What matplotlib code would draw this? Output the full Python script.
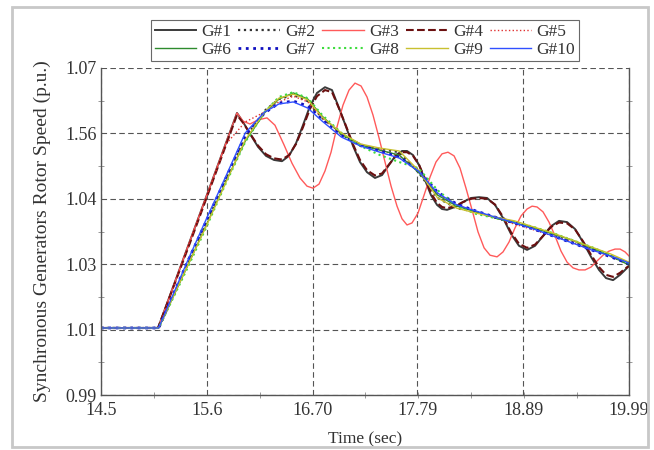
import numpy as np
import matplotlib
matplotlib.use("Agg")
import matplotlib.pyplot as plt
from matplotlib.ticker import AutoMinorLocator
from matplotlib.patches import Rectangle

# time bases (sec)
t_blk = [14.500, 15.093, 15.425, 15.685, 15.914, 15.977, 16.049, 16.133, 16.216, 16.299,
         16.382, 16.455, 16.528, 16.600, 16.673, 16.746, 16.829, 16.902, 16.975, 17.048,
         17.121, 17.193, 17.266, 17.349, 17.422, 17.495, 17.567, 17.630, 17.682, 17.744,
         17.807, 17.869, 17.931, 17.994, 18.046, 18.098, 18.181, 18.264, 18.347, 18.431,
         18.514, 18.597, 18.680, 18.763, 18.846, 18.930, 19.013, 19.096, 19.179, 19.262,
         19.346, 19.429, 19.512, 19.595, 19.678, 19.751, 19.824, 19.897, 19.949, 19.990]
t_red = [14.500, 15.093, 15.425, 15.685, 15.914, 15.977, 16.049, 16.133, 16.226, 16.309,
         16.403, 16.486, 16.569, 16.642, 16.704, 16.767, 16.829, 16.892, 16.954, 17.016,
         17.079, 17.141, 17.204, 17.266, 17.328, 17.391, 17.453, 17.516, 17.578, 17.630,
         17.682, 17.734, 17.796, 17.859, 17.921, 17.983, 18.046, 18.108, 18.171, 18.233,
         18.295, 18.358, 18.420, 18.483, 18.545, 18.618, 18.680, 18.742, 18.805, 18.867,
         18.930, 18.982, 19.034, 19.096, 19.158, 19.221, 19.283, 19.346, 19.408, 19.470,
         19.533, 19.595, 19.658, 19.720, 19.782, 19.845, 19.897, 19.949, 19.990]
t_smooth = [14.5, 15.1, 15.4, 15.6, 15.8, 16.0, 16.2, 16.35, 16.5, 16.65, 16.8,
            17.0, 17.2, 17.4, 17.6, 17.8, 18.0, 18.2, 18.4, 18.6, 18.8, 19.0,
            19.2, 19.4, 19.6, 19.8, 19.99]

# rotor speeds (axis units)
g1 = [1.0064, 1.0064, 1.0277, 1.0443, 1.0590, 1.0568, 1.0539, 1.0507, 1.0485, 1.0475,
      1.0472, 1.0485, 1.0516, 1.0560, 1.0607, 1.0639, 1.0653, 1.0646, 1.0602, 1.0556,
      1.0509, 1.0470, 1.0445, 1.0431, 1.0438, 1.0463, 1.0487, 1.0497, 1.0497, 1.0487,
      1.0463, 1.0426, 1.0389, 1.0365, 1.0355, 1.0353, 1.0360, 1.0372, 1.0382, 1.0384,
      1.0382, 1.0365, 1.0333, 1.0294, 1.0265, 1.0255, 1.0265, 1.0289, 1.0313, 1.0326,
      1.0323, 1.0306, 1.0274, 1.0238, 1.0206, 1.0186, 1.0181, 1.0194, 1.0206, 1.0216]
g4 = [1.0064, 1.0064, 1.0272, 1.0438, 1.0585, 1.0566, 1.0540, 1.0510, 1.0489, 1.0479,
      1.0476, 1.0487, 1.0514, 1.0555, 1.0600, 1.0631, 1.0646, 1.0641, 1.0601, 1.0558,
      1.0513, 1.0475, 1.0450, 1.0437, 1.0442, 1.0464, 1.0485, 1.0494, 1.0494, 1.0485,
      1.0463, 1.0429, 1.0394, 1.0370, 1.0360, 1.0357, 1.0362, 1.0372, 1.0380, 1.0382,
      1.0380, 1.0366, 1.0336, 1.0298, 1.0270, 1.0260, 1.0268, 1.0289, 1.0311, 1.0322,
      1.0320, 1.0305, 1.0276, 1.0243, 1.0213, 1.0194, 1.0189, 1.0199, 1.0209, 1.0216]
g3 = [1.0064, 1.0064, 1.0277, 1.0443, 1.0590, 1.0570, 1.0563, 1.0573, 1.0578, 1.0560,
      1.0512, 1.0467, 1.0431, 1.0411, 1.0406, 1.0416, 1.0448, 1.0494, 1.0556, 1.0609,
      1.0646, 1.0663, 1.0656, 1.0629, 1.0585, 1.0529, 1.0470, 1.0411, 1.0362, 1.0331,
      1.0316, 1.0321, 1.0345, 1.0389, 1.0433, 1.0470, 1.0490, 1.0494, 1.0485, 1.0455,
      1.0406, 1.0353, 1.0299, 1.0260, 1.0242, 1.0238, 1.0250, 1.0274, 1.0309, 1.0338,
      1.0355, 1.0362, 1.0360, 1.0348, 1.0323, 1.0289, 1.0252, 1.0225, 1.0211, 1.0206,
      1.0206, 1.0213, 1.0228, 1.0242, 1.0252, 1.0257, 1.0257, 1.0250, 1.0240]
g2 = [1.0064, 1.0064, 1.0220, 1.0323, 1.0428, 1.0529, 1.0595, 1.0624, 1.0634, 1.0619,
      1.0578, 1.0538, 1.0509, 1.0502, 1.0494, 1.0445, 1.0382, 1.0357, 1.0348, 1.0335,
      1.0323, 1.0309, 1.0291, 1.0274, 1.0257, 1.0240, 1.0220]
g5 = [1.0064, 1.0064, 1.0260, 1.0387, 1.0514, 1.0568, 1.0592, 1.0617, 1.0631, 1.0617,
      1.0578, 1.0538, 1.0514, 1.0499, 1.0485, 1.0450, 1.0392, 1.0365, 1.0348, 1.0333,
      1.0318, 1.0304, 1.0289, 1.0274, 1.0257, 1.0240, 1.0220]
g6 = [1.0064, 1.0064, 1.0216, 1.0318, 1.0423, 1.0521, 1.0590, 1.0624, 1.0639, 1.0624,
      1.0582, 1.0538, 1.0512, 1.0499, 1.0487, 1.0445, 1.0389, 1.0362, 1.0348, 1.0333,
      1.0321, 1.0309, 1.0294, 1.0279, 1.0260, 1.0240, 1.0218]
g7 = [1.0064, 1.0064, 1.0226, 1.0328, 1.0431, 1.0534, 1.0590, 1.0614, 1.0619, 1.0607,
      1.0575, 1.0536, 1.0512, 1.0497, 1.0482, 1.0450, 1.0396, 1.0367, 1.0350, 1.0335,
      1.0321, 1.0306, 1.0289, 1.0272, 1.0255, 1.0238, 1.0221]
g8 = [1.0064, 1.0064, 1.0211, 1.0313, 1.0419, 1.0519, 1.0592, 1.0629, 1.0641, 1.0626,
      1.0585, 1.0541, 1.0509, 1.0487, 1.0470, 1.0455, 1.0401, 1.0362, 1.0343, 1.0333,
      1.0323, 1.0311, 1.0296, 1.0279, 1.0262, 1.0242, 1.0223]
g9 = [1.0064, 1.0064, 1.0216, 1.0316, 1.0421, 1.0524, 1.0592, 1.0626, 1.0636, 1.0622,
      1.0580, 1.0541, 1.0514, 1.0504, 1.0497, 1.0450, 1.0382, 1.0357, 1.0345, 1.0335,
      1.0326, 1.0311, 1.0296, 1.0279, 1.0262, 1.0245, 1.0225]
g10 = [1.0064, 1.0064, 1.0228, 1.0333, 1.0436, 1.0541, 1.0592, 1.0612, 1.0617, 1.0602,
       1.0570, 1.0531, 1.0509, 1.0494, 1.0480, 1.0448, 1.0394, 1.0365, 1.0350, 1.0335,
       1.0321, 1.0306, 1.0289, 1.0272, 1.0255, 1.0240, 1.0223]

x_tick_vals = [14.5, 15.6, 16.70, 17.79, 18.89, 19.99]
x_tick_labels = ["14.5", "15.6", "16.70", "17.79", "18.89", "19.99"]
y_tick_labels = ["0.99", "1.01", "1.03", "1.04", "1.56", "1.07"]

plt.rcParams["font.family"] = ["Liberation Serif", "DejaVu Serif"]

fig = plt.figure(figsize=(6.54, 4.5), dpi=100)
ax = fig.add_axes([0.1544, 0.1222, 0.8074, 0.7267])

# traces: (time, values, label, color, linestyle, width)
courbes = [
    (t_blk, g1, "G#1", "#3a3a3a", "-", 1.4),
    (t_smooth, g2, "G#2", "#333333", ":", 1.6),
    (t_red, g3, "G#3", "#ff5a5a", "-", 1.0),
    (t_blk, g4, "G#4", "#6b1010", "--", 1.5),
    (t_smooth, g5, "G#5", "#e03030", ":", 1.0),
    (t_smooth, g6, "G#6", "#2e8b2e", "-", 1.0),
    (t_smooth, g7, "G#7", "#1010c0", ":", 2.0),
    (t_smooth, g8, "G#8", "#3ddc3d", ":", 1.5),
    (t_smooth, g9, "G#9", "#c8c030", "-", 1.0),
    (t_smooth, g10, "G#10", "#3050ff", "-", 1.0),
]
lignes = []
for t, v, nom, c, ls, lw in courbes:
    l, = ax.plot(t, v, color=c, linestyle=ls, linewidth=lw, label=nom)
    lignes.append(l)

ax.set_xlim(14.5, 19.99)
ax.set_ylim(0.99, 1.07)
ax.set_xticks(x_tick_vals)
ax.set_xticklabels(x_tick_labels)
ax.set_yticks(np.linspace(0.99, 1.07, len(y_tick_labels)))
ax.set_yticklabels(y_tick_labels)
ax.xaxis.set_minor_locator(AutoMinorLocator(2))
ax.yaxis.set_minor_locator(AutoMinorLocator(2))
ax.tick_params(which="major", length=0, labelsize=13, colors="#333333", pad=3)
ax.tick_params(axis="x", which="major", pad=5)
ax.tick_params(which="minor", length=4, direction="inout", color="#888888",
               right=True)
ax.grid(True, which="major", linestyle=(0, (5, 3)), color="#555555", linewidth=0.8)
ax.spines["top"].set_visible(False)
for s in ["left", "right", "bottom"]:
    ax.spines[s].set_color("#555555")
    ax.spines[s].set_linewidth(1.0)

ax.set_xlabel("Time (sec)", fontsize=12.5, color="#333333", labelpad=9)
ax.set_ylabel("Synchronous Generators Rotor Speed (p.u.)", fontsize=14,
              color="#333333", labelpad=10)

# legend rows G#1..G#5 then G#6..G#10 (matplotlib fills by column)
ordre = [0, 5, 1, 6, 2, 7, 3, 8, 4, 9]
leg = ax.legend([lignes[i] for i in ordre], [courbes[i][2] for i in ordre],
                loc="lower center", bbox_to_anchor=(0.5, 1.02), ncol=5,
                fontsize=12.5, frameon=True, fancybox=False, handlelength=2.4,
                handletextpad=0.3, columnspacing=0.4, borderpad=0.2,
                labelspacing=0.1, borderaxespad=0)
leg.get_frame().set_edgecolor("#444444")
leg.get_frame().set_linewidth(0.8)
for txt in leg.get_texts():
    txt.set_color("#333333")

# cadre gris autour de la figure
fig.patches.append(Rectangle((0.019, 0.007), 0.972, 0.978, transform=fig.transFigure,
                             fill=False, edgecolor="#c8c8c8", linewidth=2))

fig.savefig("out.png", dpi=100)
